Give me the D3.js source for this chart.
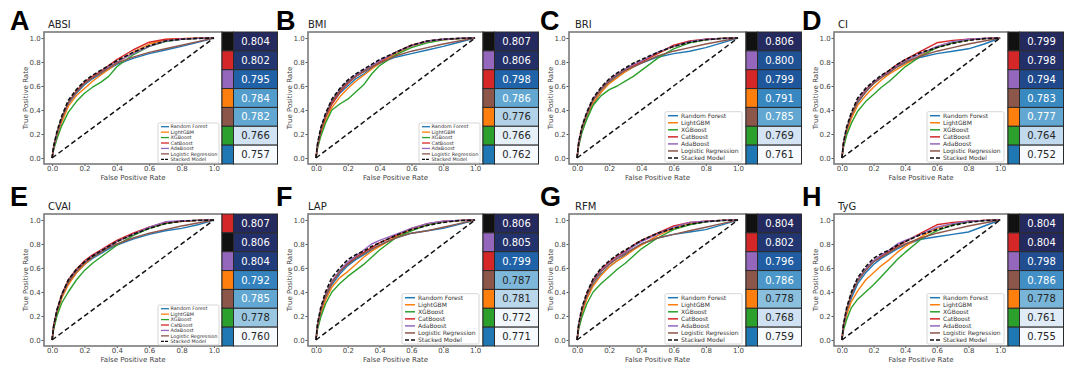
<!DOCTYPE html>
<html><head><meta charset="utf-8">
<script src="https://cdn.jsdelivr.net/npm/d3@7"></script>
<style>body{margin:0;background:#fff}svg{display:block}</style>
</head><body>
<svg id="c" width="1080" height="366"></svg>
<script>
// ---------------- DATA ----------------
const panelLetters = ["A","B","C","D","E","F","G","H"];
const panelTitles = ["ABSI","BMI","BRI","CI","CVAI","LAP","RFM","TyG"];
const models = ["Random Forest","LightGBM","XGBoost","CatBoost","AdaBoost","Logistic Regression","Stacked Model"];
const modelColors = ["#1f77b4","#ff7f0e","#2ca02c","#d62728","#9467bd","#8c564b","#111111"];
const axisTicks = [0,0.2,0.4,0.6,0.8,1.0];
const fprGrid = [0,0.01,0.03,0.06,0.1,0.15,0.2,0.25,0.3,0.35,0.4,0.5,0.6,0.7,0.8,0.9,1];

// AUC per panel, in model order (RF, LGBM, XGB, Cat, Ada, LR, Stacked)
const aucABSI = [0.757,0.784,0.766,0.802,0.795,0.782,0.804];
const aucBMI  = [0.762,0.776,0.766,0.798,0.806,0.786,0.807];
const aucBRI  = [0.761,0.791,0.769,0.799,0.800,0.785,0.806];
const aucCI   = [0.752,0.777,0.764,0.798,0.794,0.783,0.799];
const aucCVAI = [0.760,0.792,0.778,0.807,0.804,0.785,0.806];
const aucLAP  = [0.771,0.781,0.772,0.799,0.805,0.787,0.806];
const aucRFM  = [0.759,0.778,0.768,0.802,0.796,0.786,0.804];
const aucTyG  = [0.755,0.778,0.761,0.804,0.798,0.786,0.804];

// TPR values at fprGrid, per panel, in model order
const tprABSI = [
 [0,0.09,0.20,0.33,0.45,0.54,0.61,0.66,0.70,0.74,0.78,0.83,0.87,0.90,0.93,0.965,1],
 [0,0.08,0.18,0.30,0.43,0.52,0.58,0.64,0.69,0.74,0.79,0.88,0.95,0.985,0.995,0.998,1],
 [0,0.07,0.16,0.27,0.38,0.47,0.54,0.59,0.63,0.68,0.76,0.86,0.93,0.97,0.99,0.997,1],
 [0,0.09,0.20,0.33,0.46,0.56,0.63,0.68,0.72,0.77,0.82,0.90,0.965,0.99,0.995,0.998,1],
 [0,0.09,0.20,0.33,0.46,0.55,0.62,0.67,0.71,0.76,0.80,0.87,0.93,0.975,0.99,0.997,1],
 [0,0.10,0.21,0.33,0.46,0.55,0.62,0.67,0.71,0.75,0.79,0.84,0.88,0.91,0.94,0.97,1],
 [0,0.10,0.22,0.35,0.48,0.57,0.64,0.69,0.73,0.77,0.81,0.88,0.935,0.975,0.99,0.997,1]];
const tprBMI = [
 [0,0.10,0.22,0.34,0.45,0.54,0.60,0.66,0.70,0.75,0.79,0.84,0.87,0.90,0.93,0.965,1],
 [0,0.09,0.20,0.31,0.42,0.51,0.58,0.64,0.69,0.74,0.79,0.87,0.93,0.97,0.985,0.995,1],
 [0,0.08,0.18,0.29,0.40,0.45,0.49,0.55,0.61,0.70,0.77,0.86,0.92,0.96,0.985,0.995,1],
 [0,0.10,0.22,0.34,0.45,0.55,0.62,0.68,0.72,0.76,0.80,0.88,0.94,0.975,0.99,0.997,1],
 [0,0.11,0.24,0.36,0.48,0.57,0.64,0.69,0.73,0.77,0.81,0.88,0.935,0.975,0.99,0.997,1],
 [0,0.11,0.23,0.35,0.47,0.56,0.63,0.68,0.72,0.76,0.79,0.85,0.89,0.92,0.95,0.975,1],
 [0,0.12,0.25,0.37,0.49,0.58,0.65,0.70,0.74,0.78,0.82,0.88,0.94,0.975,0.99,0.997,1]];
const tprBRI = [
 [0,0.11,0.22,0.34,0.45,0.55,0.63,0.68,0.72,0.76,0.79,0.84,0.87,0.89,0.92,0.96,1],
 [0,0.11,0.23,0.35,0.46,0.55,0.62,0.67,0.72,0.76,0.80,0.87,0.93,0.97,0.99,0.997,1],
 [0,0.10,0.21,0.32,0.44,0.52,0.57,0.60,0.64,0.68,0.73,0.83,0.91,0.96,0.985,0.995,1],
 [0,0.12,0.25,0.37,0.49,0.58,0.65,0.70,0.74,0.77,0.80,0.87,0.94,0.975,0.99,0.997,1],
 [0,0.12,0.25,0.37,0.49,0.58,0.65,0.70,0.74,0.78,0.81,0.88,0.93,0.97,0.99,0.997,1],
 [0,0.12,0.24,0.36,0.48,0.57,0.64,0.69,0.73,0.76,0.79,0.85,0.89,0.92,0.95,0.975,1],
 [0,0.13,0.26,0.38,0.50,0.59,0.66,0.71,0.75,0.79,0.82,0.88,0.93,0.965,0.985,0.997,1]];
const tprCI = [
 [0,0.11,0.23,0.35,0.46,0.55,0.62,0.68,0.72,0.76,0.79,0.84,0.87,0.89,0.91,0.95,1],
 [0,0.10,0.21,0.33,0.44,0.52,0.59,0.65,0.70,0.74,0.78,0.86,0.92,0.96,0.985,0.995,1],
 [0,0.09,0.19,0.29,0.39,0.47,0.53,0.59,0.64,0.70,0.76,0.85,0.92,0.96,0.985,0.995,1],
 [0,0.12,0.24,0.36,0.48,0.57,0.63,0.68,0.73,0.78,0.82,0.89,0.96,0.98,0.99,0.997,1],
 [0,0.12,0.24,0.36,0.48,0.56,0.63,0.68,0.72,0.77,0.81,0.87,0.93,0.97,0.99,0.997,1],
 [0,0.12,0.24,0.36,0.47,0.55,0.62,0.67,0.71,0.76,0.80,0.85,0.89,0.92,0.95,0.975,1],
 [0,0.13,0.26,0.38,0.50,0.58,0.64,0.69,0.73,0.78,0.82,0.88,0.92,0.955,0.98,0.995,1]];
const tprCVAI = [
 [0,0.11,0.23,0.36,0.47,0.56,0.63,0.68,0.72,0.76,0.79,0.84,0.88,0.91,0.93,0.96,1],
 [0,0.10,0.22,0.35,0.46,0.56,0.63,0.69,0.73,0.78,0.82,0.88,0.94,0.975,0.99,0.997,1],
 [0,0.09,0.20,0.31,0.40,0.50,0.58,0.64,0.69,0.74,0.79,0.87,0.93,0.97,0.99,0.997,1],
 [0,0.12,0.25,0.38,0.50,0.59,0.66,0.71,0.75,0.79,0.83,0.89,0.94,0.98,0.99,0.997,1],
 [0,0.12,0.25,0.37,0.49,0.58,0.65,0.70,0.74,0.78,0.82,0.88,0.94,0.985,0.995,0.997,1],
 [0,0.12,0.24,0.37,0.48,0.57,0.64,0.69,0.73,0.77,0.80,0.85,0.89,0.92,0.95,0.975,1],
 [0,0.12,0.25,0.38,0.50,0.59,0.65,0.70,0.74,0.78,0.82,0.88,0.93,0.97,0.99,0.997,1]];
const tprLAP = [
 [0,0.11,0.23,0.35,0.46,0.55,0.62,0.67,0.71,0.75,0.79,0.85,0.89,0.91,0.93,0.965,1],
 [0,0.10,0.21,0.33,0.44,0.52,0.57,0.63,0.69,0.74,0.78,0.86,0.92,0.96,0.985,0.995,1],
 [0,0.09,0.19,0.30,0.40,0.47,0.53,0.58,0.63,0.69,0.75,0.85,0.91,0.96,0.985,0.995,1],
 [0,0.12,0.25,0.37,0.48,0.57,0.64,0.69,0.73,0.77,0.81,0.87,0.93,0.97,0.99,0.997,1],
 [0,0.12,0.25,0.38,0.49,0.58,0.65,0.70,0.75,0.80,0.83,0.88,0.93,0.97,0.99,0.997,1],
 [0,0.12,0.25,0.37,0.48,0.57,0.63,0.68,0.72,0.76,0.79,0.85,0.89,0.91,0.94,0.97,1],
 [0,0.14,0.27,0.40,0.52,0.60,0.67,0.71,0.74,0.78,0.81,0.87,0.92,0.955,0.98,0.995,1]];
const tprRFM = [
 [0,0.11,0.23,0.35,0.46,0.55,0.61,0.66,0.71,0.76,0.80,0.85,0.88,0.90,0.92,0.96,1],
 [0,0.10,0.22,0.34,0.45,0.54,0.61,0.66,0.70,0.75,0.79,0.87,0.93,0.97,0.99,0.997,1],
 [0,0.09,0.19,0.30,0.40,0.47,0.53,0.59,0.64,0.70,0.76,0.85,0.92,0.96,0.985,0.995,1],
 [0,0.12,0.25,0.38,0.50,0.59,0.65,0.70,0.74,0.79,0.83,0.89,0.95,0.98,0.99,0.997,1],
 [0,0.12,0.25,0.37,0.49,0.58,0.64,0.69,0.73,0.78,0.82,0.88,0.94,0.98,0.99,0.997,1],
 [0,0.12,0.25,0.37,0.48,0.57,0.63,0.68,0.72,0.76,0.80,0.85,0.88,0.91,0.94,0.97,1],
 [0,0.13,0.27,0.39,0.51,0.60,0.66,0.71,0.75,0.79,0.83,0.89,0.93,0.965,0.985,0.997,1]];
const tprTyG = [
 [0,0.11,0.23,0.35,0.47,0.56,0.63,0.68,0.72,0.76,0.79,0.84,0.86,0.88,0.90,0.95,1],
 [0,0.10,0.21,0.32,0.41,0.50,0.56,0.62,0.67,0.73,0.78,0.86,0.93,0.97,0.99,0.997,1],
 [0,0.08,0.17,0.27,0.34,0.40,0.46,0.53,0.60,0.67,0.73,0.84,0.91,0.96,0.985,0.995,1],
 [0,0.12,0.25,0.38,0.50,0.59,0.66,0.70,0.74,0.78,0.82,0.89,0.96,0.98,0.99,0.997,1],
 [0,0.12,0.25,0.38,0.50,0.59,0.66,0.71,0.75,0.80,0.83,0.88,0.94,0.97,0.99,0.997,1],
 [0,0.12,0.25,0.38,0.49,0.58,0.65,0.69,0.73,0.77,0.80,0.85,0.89,0.92,0.95,0.975,1],
 [0,0.13,0.27,0.40,0.52,0.61,0.68,0.72,0.75,0.79,0.82,0.88,0.92,0.955,0.98,0.995,1]];

const panelTPR = [tprABSI,tprBMI,tprBRI,tprCI,tprCVAI,tprLAP,tprRFM,tprTyG];
const panelAUC = [aucABSI,aucBMI,aucBRI,aucCI,aucCVAI,aucLAP,aucRFM,aucTyG];
const smallLegendPanels = [0,1,4];
const heatStops = ["#f7fbff","#deebf7","#c6dbef","#9ecae1","#6baed6","#4292c6","#2171b5","#1e4f96","#24295e"];

// ---------------- LAYOUT ----------------
const cols = [
  {left:44, w:178, letterX:10,  titleX:48},
  {left:308,w:175, letterX:276, titleX:308},
  {left:569,w:177, letterX:540, titleX:575},
  {left:834,w:174, letterX:802, titleX:838}];
const rowsL = [
  {top:32, h:132, letterY:30, titleY:28},
  {top:214,h:132, letterY:206,titleY:210}];
const FONT = "DejaVu Sans, sans-serif";
const svg = d3.select("#c");
const heatColor = d3.interpolateRgbBasis(heatStops);

function lum(c){
  const r = d3.rgb(c);
  const f = v => { v/=255; return v<=0.03928 ? v/12.92 : Math.pow((v+0.055)/1.055,2.4); };
  return 0.2126*f(r.r)+0.7152*f(r.g)+0.0722*f(r.b);
}

panelTitles.forEach((title, p) => {
  const col = cols[p%4], row = rowsL[Math.floor(p/4)];
  const L = col.left, T = row.top, W = col.w, H = row.h;
  const g = svg.append("g");
  const x = d3.scaleLinear().domain([-0.05,1.05]).range([L, L+W]);
  const y = d3.scaleLinear().domain([-0.05,1.05]).range([T+H, T]);

  // letter + title
  g.append("text").attr("x", col.letterX).attr("y", row.letterY)
    .attr("font-family","Liberation Sans, Arial, sans-serif").attr("font-weight","bold")
    .attr("font-size",27).attr("fill","#000").text(panelLetters[p]);
  g.append("text").attr("x", col.titleX).attr("y", row.titleY)
    .attr("font-family",FONT).attr("font-size",10).attr("fill","#222").text(title);

  g.append("rect").attr("x",L).attr("y",T).attr("width",W).attr("height",H).attr("fill","#fff");

  const clipId = "clip"+p;
  g.append("clipPath").attr("id",clipId).append("rect")
    .attr("x",L).attr("y",T).attr("width",W).attr("height",H);
  const plot = g.append("g").attr("clip-path",`url(#${clipId})`);

  const line = d3.line().x((d,i)=>x(fprGrid[i])).y(d=>y(d));
  const tpr = panelTPR[p];
  tpr.forEach((vals, m) => {
    if (m === 6) return;
    plot.append("path").attr("d", line(vals)).attr("fill","none")
      .attr("stroke", modelColors[m]).attr("stroke-width",1.4).attr("stroke-linejoin","round");
  });
  plot.append("path").attr("d", d3.line().x(d=>x(d)).y(d=>y(d))([0,1]))
    .attr("stroke","#111").attr("stroke-width",1.5).attr("stroke-dasharray","5,3").attr("fill","none");
  plot.append("path").attr("d", line(tpr[6])).attr("fill","none")
    .attr("stroke", modelColors[6]).attr("stroke-width",1.6).attr("stroke-dasharray","4,2");

  // axes
  const fmt = d3.format(".1f");
  const ax = g.append("g").attr("transform",`translate(0,${T+H})`)
    .call(d3.axisBottom(x).tickValues(axisTicks).tickFormat(fmt).tickSize(2).tickPadding(0.5));
  const ay = g.append("g").attr("transform",`translate(${L},0)`)
    .call(d3.axisLeft(y).tickValues(axisTicks).tickFormat(fmt).tickSize(2.5).tickPadding(0.8));
  [ax,ay].forEach(a => {
    a.select(".domain").remove();
    a.selectAll(".tick line").attr("stroke","#555");
    a.selectAll(".tick text").attr("font-family",FONT).attr("font-size",7).attr("fill","#444");
  });

  g.append("rect").attr("x",L).attr("y",T).attr("width",W).attr("height",H)
    .attr("fill","none").attr("stroke","#7a7a7a").attr("stroke-width",1.6);

  // axis labels
  g.append("text").attr("x", L+W/2).attr("y", T+H+15.5).attr("text-anchor","middle")
    .attr("font-family",FONT).attr("font-size",7).attr("fill","#444").text("False Positive Rate");
  g.append("text").attr("transform",`translate(${L-16},${T+H/2}) rotate(-90)`).attr("text-anchor","middle")
    .attr("font-family",FONT).attr("font-size",7).attr("fill","#444").text("True Positive Rate");

  // legend
  const small = smallLegendPanels.includes(p);
  const lg = small ? {w:61,fs:4.9,rh:5.43,pad:3.7,hl:8,hx:3,tx:12.5,right:3,bottom:1}
                   : {w:77,fs:6.0,rh:7.05,pad:4.0,hl:10,hx:3,tx:16,right:4,bottom:2};
  const lh = lg.rh*6 + lg.pad*2;
  const lx = L+W-lg.right-lg.w, ly = T+H-lg.bottom-lh;
  const leg = g.append("g");
  leg.append("rect").attr("x",lx).attr("y",ly).attr("width",lg.w).attr("height",lh)
    .attr("rx",1.5).attr("fill","rgba(255,255,255,0.9)").attr("stroke","#cccccc").attr("stroke-width",0.8);
  models.forEach((name,m) => {
    const cy = ly + lg.pad + m*lg.rh;
    leg.append("line").attr("x1",lx+lg.hx).attr("x2",lx+lg.hx+lg.hl).attr("y1",cy).attr("y2",cy)
      .attr("stroke",modelColors[m]).attr("stroke-width", small?1.3:1.5)
      .attr("stroke-dasharray", m===6 ? (small?"3,1":"4,2") : null);
    leg.append("text").attr("x",lx+lg.tx).attr("y",cy).attr("dy","0.35em")
      .attr("font-family",FONT).attr("font-size",lg.fs).attr("fill","#333").text(name);
  });

  // heatmap
  const auc = panelAUC[p];
  const order = auc.map((v,i)=>({v,i})).sort((a,b)=> (b.v-a.v) || (b.i-a.i));
  const cscale = d3.scaleLinear().domain([d3.min(auc), d3.max(auc)]).range([0,1]);
  const band = d3.scaleBand().domain(d3.range(7)).range([T, T+H]);
  const sx = L+W, sw = 11.5, vw = 44;
  order.forEach((o,r) => {
    const yy = band(r), hh = band.bandwidth();
    g.append("rect").attr("x",sx).attr("y",yy).attr("width",sw).attr("height",hh)
      .attr("fill",modelColors[o.i]).attr("stroke","#2a2a2a").attr("stroke-width",1);
    const fill = heatColor(cscale(o.v));
    g.append("rect").attr("x",sx+sw).attr("y",yy).attr("width",vw).attr("height",hh)
      .attr("fill",fill).attr("stroke","#2a2a2a").attr("stroke-width",1);
    g.append("text").attr("x",sx+sw+vw/2).attr("y",yy+hh/2).attr("dy","0.36em")
      .attr("text-anchor","middle").attr("font-family",FONT).attr("font-size",10)
      .attr("fill", lum(fill) > 0.408 ? "#262626" : "#ffffff").text(d3.format(".3f")(o.v));
  });
});
</script>
</body></html>
